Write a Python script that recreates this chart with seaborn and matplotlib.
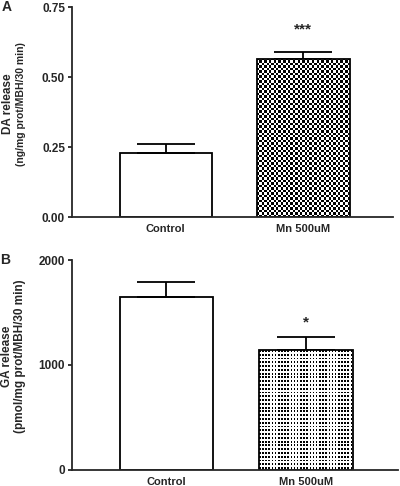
import numpy as np
import pandas as pd
import matplotlib
matplotlib.use('Agg')
import matplotlib.pyplot as plt
import seaborn as sns

# values
groups = ['Control', 'Mn 500uM']
da_mean = [0.23, 0.565]
da_sem = [0.032, 0.024]
da_sig = ['', '***']
ga_mean = [1645, 1140]
ga_sem = [150, 122]
ga_sig = ['', '*']

sns.set_theme(style='ticks')
plt.rcParams['font.family'] = ['Liberation Sans', 'DejaVu Sans']
plt.rcParams['font.weight'] = 'bold'


def pattern_fill(ax, patch, kind):
    # paint a texture inside the bar patch (checkerboard or dots)
    x0, y0 = patch.get_x(), patch.get_y()
    x1, y1 = x0 + patch.get_width(), y0 + patch.get_height()
    bb = patch.get_window_extent()
    w, h = int(round(bb.width)), int(round(bb.height))
    yy, xx = np.indices((h, w))
    if kind == 'check':
        img = ((yy // 3 + xx // 3) % 2).astype(float)
    else:
        img = 1.0 - (((xx % 4) < 2) & ((yy % 4) < 2)).astype(float)
    im = ax.imshow(img, cmap='gray', vmin=0, vmax=1, extent=(x0, x1, y0, y1),
                   aspect='auto', interpolation='nearest', zorder=patch.get_zorder() + 0.1)
    im.set_clip_path(patch)
    patch.set_zorder(patch.get_zorder() + 0.2)
    patch.set_facecolor('none')


def panel(ax, means, sems, sig, ymax, yticks, fmt, kind, letter, lab1, lab2, lab2size, star_off, xlim):
    df = pd.DataFrame({'group': groups, 'value': means})
    sns.barplot(data=df, x='group', y='value', ax=ax, color='white', edgecolor='black',
                linewidth=1.3, width=0.67, errorbar=None)
    ax.errorbar(range(len(groups)), means, yerr=[[0] * len(sems), sems], fmt='none',
                ecolor='black', elinewidth=1.3, capsize=21, capthick=1.3, zorder=1)
    fig.canvas.draw()
    pattern_fill(ax, ax.patches[1], kind)
    for i in range(len(groups)):
        if sig[i]:
            ax.text(i, means[i] + sems[i] + star_off, sig[i], ha='center', va='center',
                    fontsize=11, fontweight='bold')
    ax.set_ylim(0, ymax)
    ax.set_xlim(*xlim)
    ax.set_yticks(yticks)
    ax.set_yticklabels([fmt.format(t) for t in yticks])
    ax.set_xlabel('')
    ax.set_ylabel('')
    ax.tick_params(axis='x', length=0, labelsize=8, pad=5)
    ax.tick_params(axis='y', length=3, width=1.3, labelsize=8.5, pad=2)
    for lbl in ax.get_xticklabels() + ax.get_yticklabels():
        lbl.set_fontweight('bold')
    for s in ['left', 'bottom']:
        ax.spines[s].set_linewidth(1.3)
    sns.despine(ax=ax)
    ax.text(-0.198, 0.54, lab1, transform=ax.transAxes, rotation=90, ha='center', va='center',
            fontsize=8.5, fontweight='bold')
    ax.text(-0.158, 0.54, lab2, transform=ax.transAxes, rotation=90, ha='center', va='center',
            fontsize=lab2size, fontweight='bold')
    ax.text(-0.22, 1.0, letter, transform=ax.transAxes, ha='left', va='center',
            fontsize=10, fontweight='bold')


fig = plt.figure(figsize=(4.0, 4.86), dpi=100)
ax1 = fig.add_axes([0.18, 0.553, 0.8025, 0.432])
ax2 = fig.add_axes([0.18, 0.0335, 0.815, 0.4315])

panel(ax1, da_mean, da_sem, da_sig, 0.75, [0.0, 0.25, 0.5, 0.75], '{:.2f}', 'check', 'A',
      'DA release', '(ng/mg prot/MBH/30 min)', 7.5, 0.08, (-0.68, 1.65))
panel(ax2, ga_mean, ga_sem, ga_sig, 2000, [0, 1000, 2000], '{:.0f}', 'dots', 'B',
      'GA release', '(pmol/mg prot/MBH/30 min)', 8.5, 140, (-0.676, 1.66))

fig.savefig('out.png', dpi=100)
